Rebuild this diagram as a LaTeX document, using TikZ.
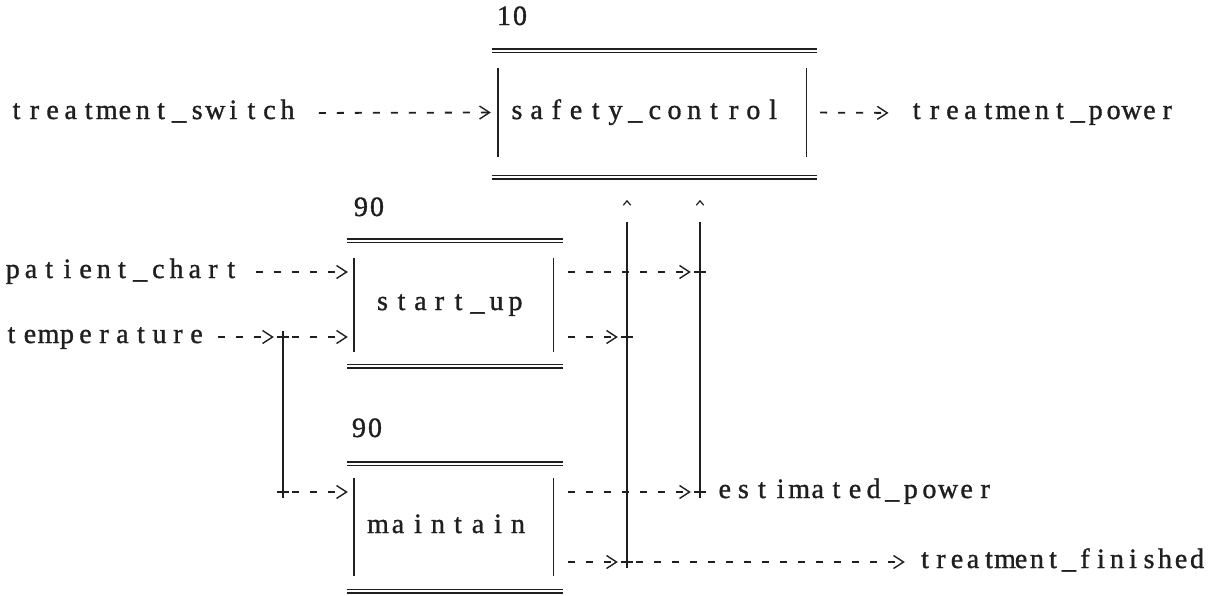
\documentclass[tikz,border=0pt]{standalone}
\usepackage{fontspec}
\setmainfont[FakeBold=1.2]{Liberation Serif}
\usetikzlibrary{arrows.meta,calc}
\newlength\cellw
\def\cellbox#1{\hbox to\cellw{\hss#1\hss}}
\def\cellloop#1{\ifx#1\relax\else\cellbox{#1}\expandafter\cellloop\fi}
\newcommand\mono[2]{\setlength\cellw{#1}\cellloop#2\relax}
\definecolor{ink}{gray}{0.12}
\begin{document}
\begin{tikzpicture}[x=1pt,y=-1pt,
 txt/.style={inner sep=0pt, anchor=base, text=ink, font=\fontsize{28}{33}\selectfont},
 boxn/.style={inner sep=0pt, draw=none},
 bar/.style={draw=ink, line width=1.4pt},
 dbl/.style={draw=ink, line width=1.4pt, double=white, double distance=2.4pt},
 wire/.style={draw=ink, line width=1.4pt},
 conn/.style={draw=ink, line width=1.8pt, dash pattern=on 7pt off 11pt, -{Straight Barb[length=10pt,width=13pt,line width=1.4pt]}},
 junc/.style={inner sep=0pt, minimum size=12pt},
 caret/.style={inner sep=0pt, minimum width=7pt, minimum height=4pt},
]
\fill[white] (0,0) rectangle (1220,595);
\useasboundingbox (0,0) rectangle (1220,595);
% rows
\coordinate (r0) at (0,113);
\coordinate (r1) at (0,272);
\coordinate (r2) at (0,337);
\coordinate (r3) at (0,492);
\coordinate (r4) at (0,562);
% boxes
\node[boxn, minimum width=308pt, minimum height=89pt] (sc) at (652,112.5) {};
\node[boxn, minimum width=199pt, minimum height=94pt] (su) at (453.5,305) {};
\node[boxn, minimum width=199pt, minimum height=98pt] (mt) at (453.5,527) {};
\foreach \b/\l/\r/\t/\u in {sc/6/11/17/20, su/7/10/17/14, mt/7/10/14/15} {
  \draw[bar] (\b.north west) -- (\b.south west);
  \draw[bar] (\b.north east) -- (\b.south east);
  \draw[dbl] ($(\b.north west)+(-\l,-\t)$) -- ($(\b.north east)+(\r,-\t)$);
  \draw[dbl] ($(\b.south west)+(-\l,\u)$) -- ($(\b.south east)+(\r,\u)$);
}
% texts
\node[txt] (n10) at (512,25) {\mono{16pt}{10}};
\node[txt] (sct) at (645,119) {\mono{19.7pt}{safety\_control}};
\node[txt] (n90a) at (369,216) {\mono{16pt}{90}};
\node[txt] (sut) at (449,310) {\mono{19pt}{start\_up}};
\node[txt] (n90b) at (367,437) {\mono{16pt}{90}};
\node[txt] (mtt) at (448,533) {\mono{20pt}{maintain}};
\node[txt] (ts) at (152,119) {\mono{18.07pt}{treatment\_switch}};
\node[txt] (tpow) at (1042,119) {\mono{17.9pt}{treatment\_power}};
\node[txt] (pc) at (122,278) {\mono{18.2pt}{patient\_chart}};
\node[txt] (tp) at (104,343) {\mono{18.5pt}{temperature}};
\node[txt] (est) at (855,498) {\mono{18.6pt}{estimated\_power}};
\node[txt] (tf) at (1061,568) {\mono{16pt}{treatment\_finished}};
% junctions and carets
\node[junc] (j1) at (700,272) {};
\node[junc] (j2) at (627,337) {};
\node[junc] (j3) at (700,492) {};
\node[junc] (j4) at (627,562) {};
\node[junc] (j5) at (283,337) {};
\node[junc] (j6) at (283,492) {};
\node[caret] (c1) at (627,203) {};
\node[caret] (c2) at (700,203) {};
\foreach \j in {j1,j2,j3,j4,j5,j6}
  \draw[wire] (\j.north) -- (\j.south) (\j.west) -- (\j.east);
\foreach \c in {c1,c2}
  \draw[ink, line width=1.2pt] (\c.south west) -- (\c.north) -- (\c.south east);
% vertical wires
\draw[wire] ($(c1)+(0,19)$) -- (j4);
\draw[wire] ($(c2)+(0,19)$) -- (j3);
\draw[wire] (j5) -- (j6);
% connectors
\draw[conn, shorten <=22pt, shorten >=7pt] (ts.east |- r0) -- (sc.west);
\draw[conn, shorten <=14pt, shorten >=19pt] (sc.east) -- (tpow.west |- r0);
\draw[conn, shorten <=15pt, shorten >=6pt] (pc.east |- r1) -- (su.west |- r1);
\draw[conn, shorten <=12pt, shorten >=3pt] (tp.east |- r2) -- (j5);
\draw[conn, shorten <=3pt, shorten >=6pt] (j5) -- (su.west |- r2);
\draw[conn, shorten <=3pt, shorten >=6pt] (j6) -- (mt.west |- r3);
\draw[conn, shorten <=15pt, shorten >=3pt] (su.east |- r1) -- (j1);
\draw[conn, shorten <=15pt, shorten >=3pt] (su.east |- r2) -- (j2);
\draw[conn, shorten <=15pt, shorten >=3pt] (mt.east |- r3) -- (j3);
\draw[conn, shorten <=15pt, shorten >=3pt] (mt.east |- r4) -- (j4);
\draw[conn, shorten <=3pt, shorten >=12pt] (j4) -- (tf.west |- r4);
\end{tikzpicture}
\end{document}
